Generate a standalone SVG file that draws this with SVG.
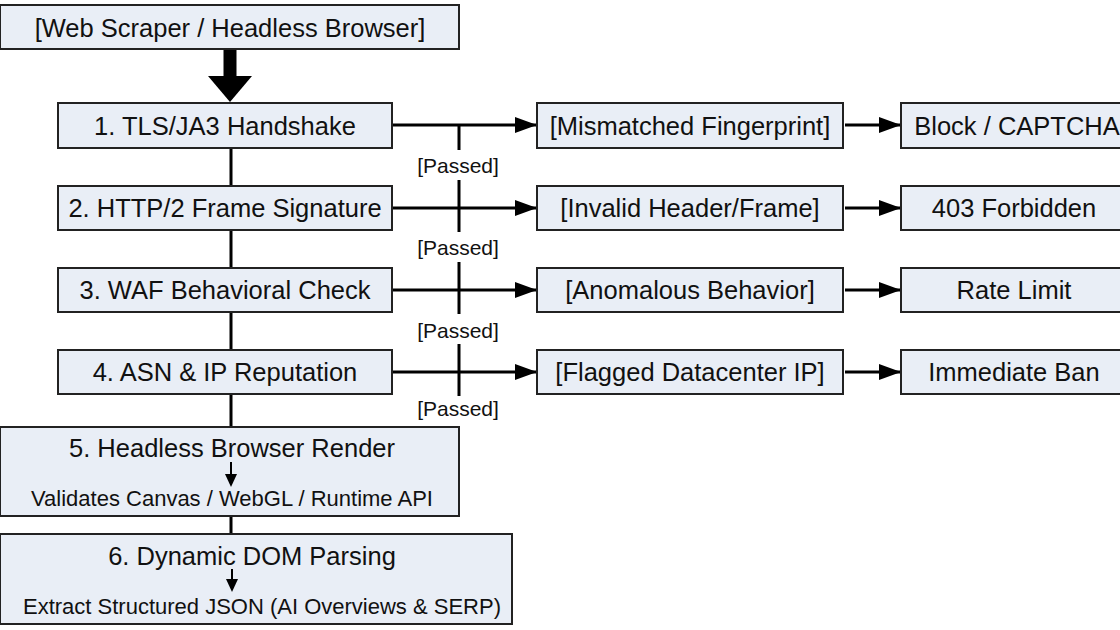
<svg xmlns="http://www.w3.org/2000/svg" width="1120" height="630" viewBox="0 0 1120 630">
<style>
.b{fill:#e9eef6;stroke:#222;stroke-width:2}
.t{font-family:"Liberation Sans",Arial,sans-serif;font-size:25.5px;fill:#111;text-anchor:middle}
.s{font-size:22px}
.p{font-family:"Liberation Sans",Arial,sans-serif;font-size:21px;fill:#111;text-anchor:middle}
.l{stroke:#000;stroke-width:3;fill:none}
</style>
<defs>
<marker id="ah" viewBox="0 0 10 10" refX="10" refY="5" markerWidth="22" markerHeight="16" orient="auto" markerUnits="userSpaceOnUse" preserveAspectRatio="none"><path d="M0,0L10,5L0,10z"/></marker>
</defs>
<rect width="1120" height="630" fill="#fff"/>
<g id="connectors">
<path d="M230,50V80" stroke="#000" stroke-width="13"/>
<path d="M208,76H252L230,102z"/>
<path class="l" d="M231,148V186M231,230V268M231,312V350M231,394V427M231,516V534"/>
<path class="l" d="M459,125V150M459,180V232M459,262V314M459,344V396"/>
<path class="l" d="M392,125H537" marker-end="url(#ah)"/>
<path class="l" d="M392,208H537" marker-end="url(#ah)"/>
<path class="l" d="M392,290H537" marker-end="url(#ah)"/>
<path class="l" d="M392,372H537" marker-end="url(#ah)"/>
<path class="l" d="M845,125H901" marker-end="url(#ah)"/>
<path class="l" d="M845,208H901" marker-end="url(#ah)"/>
<path class="l" d="M845,290H901" marker-end="url(#ah)"/>
<path class="l" d="M845,372H901" marker-end="url(#ah)"/>
<text class="p" x="458" y="173">[Passed]</text>
<text class="p" x="458" y="255">[Passed]</text>
<text class="p" x="458" y="338">[Passed]</text>
<text class="p" x="458" y="416">[Passed]</text>
</g>
<g id="n0"><rect class="b" x="0" y="5" width="459" height="44"/><text class="t" x="230" y="37">[Web Scraper / Headless Browser]</text></g>
<g id="n1"><rect class="b" x="58" y="103" width="334" height="45"/><text class="t" x="225" y="135">1. TLS/JA3 Handshake</text></g>
<g id="n2"><rect class="b" x="58" y="186" width="334" height="44"/><text class="t" x="225" y="217">2. HTTP/2 Frame Signature</text></g>
<g id="n3"><rect class="b" x="58" y="268" width="334" height="44"/><text class="t" x="225" y="299">3. WAF Behavioral Check</text></g>
<g id="n4"><rect class="b" x="58" y="350" width="334" height="44"/><text class="t" x="225" y="381">4. ASN &amp; IP Reputation</text></g>
<g id="n5"><rect class="b" x="0" y="427" width="459" height="89"/><text class="t" x="232" y="457">5. Headless Browser Render</text><path d="M231,462V476" stroke="#000" stroke-width="2"/><path d="M225,474H237L231,487z"/><text class="t s" x="232" y="506">Validates Canvas / WebGL / Runtime API</text></g>
<g id="n6"><rect class="b" x="0" y="534" width="512" height="90"/><text class="t" x="252" y="565">6. Dynamic DOM Parsing</text><path d="M232,569V581" stroke="#000" stroke-width="2"/><path d="M226,579H238L232,592z"/><text class="t s" x="262" y="614">Extract Structured JSON (AI Overviews &amp; SERP)</text></g>
<g id="f1"><rect class="b" x="537" y="103" width="306" height="45"/><text class="t" x="690" y="135">[Mismatched Fingerprint]</text></g>
<g id="f2"><rect class="b" x="537" y="186" width="306" height="44"/><text class="t" x="690" y="217">[Invalid Header/Frame]</text></g>
<g id="f3"><rect class="b" x="537" y="268" width="306" height="44"/><text class="t" x="690" y="299">[Anomalous Behavior]</text></g>
<g id="f4"><rect class="b" x="537" y="350" width="306" height="44"/><text class="t" x="690" y="381">[Flagged Datacenter IP]</text></g>
<g id="r1"><rect class="b" x="901" y="103" width="230" height="45"/><text class="t" x="1017" y="135">Block / CAPTCHA</text></g>
<g id="r2"><rect class="b" x="901" y="186" width="230" height="44"/><text class="t" x="1014" y="217">403 Forbidden</text></g>
<g id="r3"><rect class="b" x="901" y="268" width="230" height="44"/><text class="t" x="1014" y="299">Rate Limit</text></g>
<g id="r4"><rect class="b" x="901" y="350" width="230" height="44"/><text class="t" x="1014" y="381">Immediate Ban</text></g>
</svg>
